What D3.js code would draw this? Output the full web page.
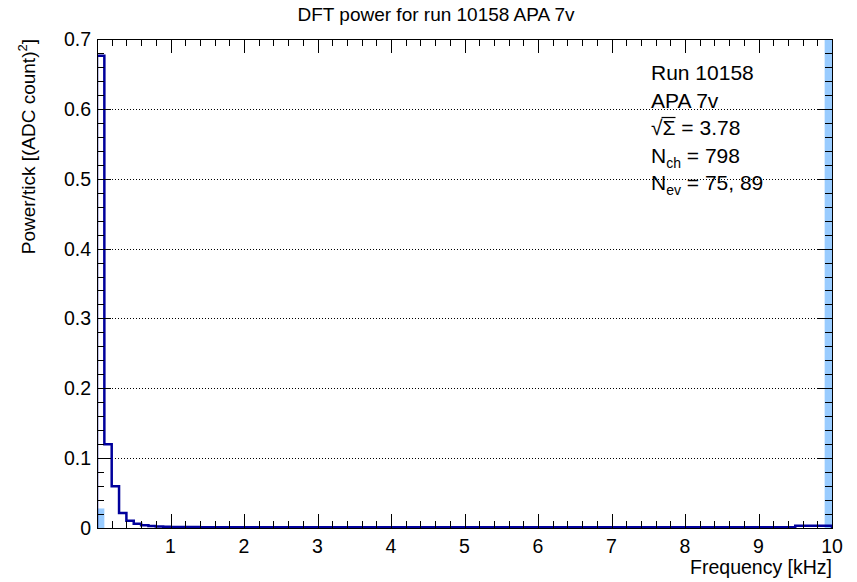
<!DOCTYPE html>
<html>
<head>
<meta charset="utf-8">
<script src="https://cdn.jsdelivr.net/npm/d3@7"></script>
<style>
  body { margin: 0; background: #fff; }
  text { font-family: "Liberation Sans", Arial, Helvetica, sans-serif; fill: #000; }
</style>
</head>
<body>
<script>
// DFT power per 0.1 kHz bin, 0 to 10 kHz
var binWidth = 0.1;
var power = [
  0.676, 0.120, 0.0597, 0.0215, 0.0105, 0.0060, 0.0040, 0.0027, 0.0022, 0.0019,
  0.0016, 0.0014, 0.0013, 0.0013, 0.0012, 0.0012, 0.0012, 0.0011, 0.0011, 0.0011,
  0.0011, 0.0011, 0.0011, 0.0011, 0.0011, 0.0011, 0.0011, 0.0011, 0.0011, 0.0011,
  0.0011, 0.0011, 0.0011, 0.0011, 0.0011, 0.0011, 0.0011, 0.0011, 0.0011, 0.0011,
  0.0011, 0.0011, 0.0011, 0.0011, 0.0011, 0.0011, 0.0011, 0.0011, 0.0011, 0.0011,
  0.0011, 0.0011, 0.0011, 0.0011, 0.0011, 0.0011, 0.0011, 0.0011, 0.0011, 0.0011,
  0.0011, 0.0011, 0.0011, 0.0011, 0.0011, 0.0011, 0.0011, 0.0011, 0.0011, 0.0011,
  0.0011, 0.0011, 0.0011, 0.0011, 0.0011, 0.0011, 0.0011, 0.0011, 0.0011, 0.0011,
  0.0011, 0.0011, 0.0011, 0.0011, 0.0011, 0.0011, 0.0011, 0.0011, 0.0011, 0.0011,
  0.0011, 0.0011, 0.0011, 0.0011, 0.0012, 0.0033, 0.0033, 0.0033, 0.0033, 0.0033
];

// bins drawn as light blue fill (second histogram)
var fillBins = [0, 99];
var fillValues = [0.028, 0.75];

var xTicks = [1, 2, 3, 4, 5, 6, 7, 8, 9, 10];
var yTicks = [0, 0.1, 0.2, 0.3, 0.4, 0.5, 0.6, 0.7];
var yTickLabels = ["0", "0.1", "0.2", "0.3", "0.4", "0.5", "0.6", "0.7"];

var legendLines = ["Run 10158", "APA 7v"];

var width = 857, height = 582;
var margin = { top: 39, right: 25, bottom: 54, left: 97 };

var svg = d3.select("body").append("svg")
    .attr("width", width)
    .attr("height", height);

var x = d3.scaleLinear().domain([0, 10]).range([margin.left, width - margin.right]);
var y = d3.scaleLinear().domain([0, 0.7]).range([height - margin.bottom, margin.top]);

// clip to the frame
svg.append("defs").append("clipPath")
    .attr("id", "frame")
  .append("rect")
    .attr("x", x(0))
    .attr("y", y(0.7))
    .attr("width", x(10) - x(0))
    .attr("height", y(0) - y(0.7));

// horizontal dotted grid
svg.append("g")
    .selectAll("line")
    .data(yTicks.slice(1, -1))
    .enter().append("line")
    .attr("x1", x(0))
    .attr("x2", x(10))
    .attr("y1", function(d) { return Math.round(y(d)) + 0.5; })
    .attr("y2", function(d) { return Math.round(y(d)) + 0.5; })
    .attr("stroke", "#000")
    .attr("stroke-width", 1)
    .attr("stroke-dasharray", "1,2");

// light blue filled bins
svg.append("g")
    .attr("clip-path", "url(#frame)")
    .selectAll("rect")
    .data(fillBins)
    .enter().append("rect")
    .attr("x", function(d) { return x(d * binWidth); })
    .attr("width", function(d) { return x((d + 1) * binWidth) - x(d * binWidth); })
    .attr("y", function(d, i) { return y(fillValues[i]); })
    .attr("height", function(d, i) { return y(0) - y(fillValues[i]); })
    .attr("fill", "#99ccff");

// step histogram outline
var pts = [[0, 0]];
power.forEach(function(v, i) { pts.push([i * binWidth, v]); });
pts.push([power.length * binWidth, power[power.length - 1]]);
pts.push([power.length * binWidth, 0]);

var line = d3.line()
    .x(function(d) { return x(d[0]); })
    .y(function(d) { return y(d[1]); })
    .curve(d3.curveStepAfter);

svg.append("path")
    .attr("d", line(pts))
    .attr("fill", "none")
    .attr("stroke", "#00009c")
    .attr("stroke-width", 2.5)
    .attr("clip-path", "url(#frame)");

// ticks on all four sides, pointing inwards
var ticks = svg.append("g").attr("stroke", "#000").attr("stroke-width", 1);
var xMinor = d3.range(0, 10.001, 0.2);
var yMinor = d3.range(0, 0.7001, 0.02);

xMinor.forEach(function(v) {
  var major = Math.abs(v - Math.round(v)) < 1e-6;
  var len = major ? 14 : 7;
  var px = Math.round(x(v)) + 0.5;
  ticks.append("line").attr("x1", px).attr("x2", px).attr("y1", y(0)).attr("y2", y(0) - len);
  ticks.append("line").attr("x1", px).attr("x2", px).attr("y1", y(0.7)).attr("y2", y(0.7) + len);
});

yMinor.forEach(function(v) {
  var major = Math.abs(v * 10 - Math.round(v * 10)) < 1e-6;
  var len = major ? 14 : 7;
  var py = Math.round(y(v)) + 0.5;
  ticks.append("line").attr("x1", x(0)).attr("x2", x(0) + len).attr("y1", py).attr("y2", py);
  ticks.append("line").attr("x1", x(10)).attr("x2", x(10) - len).attr("y1", py).attr("y2", py);
});

// frame
svg.append("rect")
    .attr("x", Math.round(x(0)) + 0.5)
    .attr("y", Math.round(y(0.7)) + 0.5)
    .attr("width", Math.round(x(10) - x(0)))
    .attr("height", Math.round(y(0) - y(0.7)))
    .attr("fill", "none")
    .attr("stroke", "#000")
    .attr("stroke-width", 1);

// tick labels
svg.append("g")
    .selectAll("text")
    .data(xTicks)
    .enter().append("text")
    .attr("x", function(d) { return x(d); })
    .attr("y", y(0) + 25)
    .attr("text-anchor", "middle")
    .attr("font-size", 19.5)
    .text(function(d) { return d; });

svg.append("g")
    .selectAll("text")
    .data(yTicks)
    .enter().append("text")
    .attr("x", x(0) - 6)
    .attr("y", function(d) { return y(d); })
    .attr("dy", "0.36em")
    .attr("text-anchor", "end")
    .attr("font-size", 19.5)
    .text(function(d, i) { return yTickLabels[i]; });

// titles
svg.append("text")
    .attr("x", 436)
    .attr("y", 21)
    .attr("text-anchor", "middle")
    .attr("font-size", 19)
    .text("DFT power for run 10158 APA 7v");

svg.append("text")
    .attr("x", x(10))
    .attr("y", 574)
    .attr("text-anchor", "end")
    .attr("font-size", 19.5)
    .text("Frequency [kHz]");

var yTitle = svg.append("text")
    .attr("transform", "translate(35," + y(0.7) + ") rotate(-90)")
    .attr("text-anchor", "end")
    .attr("font-size", 19);
yTitle.append("tspan").text("Power/tick [(ADC count)");
yTitle.append("tspan").attr("font-size", 13).attr("dy", -8).text("2");
yTitle.append("tspan").attr("dy", 8).text("]");

// statistics box text
var lx = 651, ly0 = 80, lstep = 27.5, lsize = 21;
svg.append("text").attr("x", lx).attr("y", ly0).attr("font-size", lsize).text(legendLines[0]);
svg.append("text").attr("x", lx).attr("y", ly0 + lstep).attr("font-size", lsize).text(legendLines[1]);

var sq = svg.append("text").attr("x", lx).attr("y", ly0 + 2 * lstep).attr("font-size", lsize);
sq.append("tspan").text("\u221A");
sq.append("tspan").text("\u03A3");
sq.append("tspan").text(" = 3.78");
var sqNode = sq.node();
var a = sqNode.getSubStringLength(0, 1);
var b = sqNode.getSubStringLength(0, 2);
svg.append("line")
    .attr("x1", lx + a - 1)
    .attr("x2", lx + b)
    .attr("y1", ly0 + 2 * lstep - 17.5)
    .attr("y2", ly0 + 2 * lstep - 17.5)
    .attr("stroke", "#000")
    .attr("stroke-width", 1.2);

var nch = svg.append("text").attr("x", lx).attr("y", ly0 + 3 * lstep).attr("font-size", lsize);
nch.append("tspan").text("N");
nch.append("tspan").attr("font-size", 14).attr("dy", 5).text("ch");
nch.append("tspan").attr("dy", -5).text(" = 798");

var nev = svg.append("text").attr("x", lx).attr("y", ly0 + 4 * lstep).attr("font-size", lsize);
nev.append("tspan").text("N");
nev.append("tspan").attr("font-size", 14).attr("dy", 5).text("ev");
nev.append("tspan").attr("dy", -5).text(" = 75, 89");
</script>
</body>
</html>
